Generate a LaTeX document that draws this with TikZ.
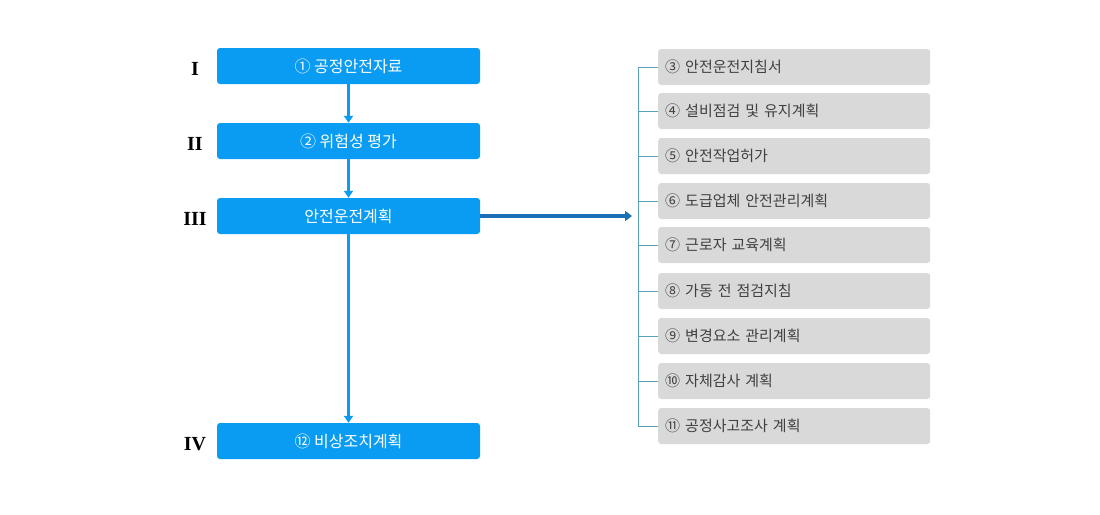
\documentclass[tikz,border=0pt]{standalone}
\usepackage{fontspec}
\setmainfont{Noto Sans CJK KR}
\newfontfamily\romfont{Liberation Serif}
\definecolor{bbox}{HTML}{0A9CF2}
\definecolor{gbox}{HTML}{D9D9D9}
\definecolor{gtext}{HTML}{404040}
\definecolor{brk}{HTML}{5A9FB5}
\definecolor{darr}{HTML}{1A6FB5}
\usetikzlibrary{arrows.meta}
\begin{document}
\begin{tikzpicture}[x=1pt,y=-1pt,
  bluebox/.style={fill=bbox,rounded corners=3pt,minimum width=263pt,minimum height=36pt,text=white,font=\fontsize{16}{18}\selectfont,inner sep=0pt},
  graybox/.style={fill=gbox,rounded corners=3pt,minimum width=272pt,minimum height=36pt,text=gtext,font=\fontsize{15}{17}\selectfont,inner sep=0pt,anchor=west},
  rom/.style={font=\romfont\bfseries\fontsize{20}{22}\selectfont},
  flow/.style={draw=bbox,line width=3pt,-{Triangle[length=7pt,width=9pt]}},
  tick/.style={draw=brk,line width=0.9pt}]
\useasboundingbox (0,0) rectangle (1100,514);
\fill[white] (0,0) rectangle (1100,514);
\node[bluebox] (b1) at (348.5,66) {① 공정안전자료};
\node[bluebox] (b2) at (348.5,141) {② 위험성 평가};
\node[bluebox] (b3) at (348.5,216) {안전운전계획};
\node[bluebox] (b4) at (348.5,441) {⑫ 비상조치계획};
\node[rom] (r1) at (195,69) {I};
\node[rom] (r2) at (195,144) {II};
\node[rom] (r3) at (195,219) {III};
\node[rom] (r4) at (195,444) {IV};
\draw[flow] (b1) -- (b2);
\draw[flow] (b2) -- (b3);
\draw[flow] (b3) -- (b4);
\coordinate (ae) at (632,216);
\draw[draw=darr,line width=3.5pt,-{Triangle[length=7pt,width=10pt]}] (b3.east) -- (ae);
\foreach \i/\y/\t in {3/67/③ 안전운전지침서,4/111/④ 설비점검 및 유지계획,5/156/⑤ 안전작업허가,6/201/⑥ 도급업체 안전관리계획,7/245/⑦ 근로자 교육계획,8/291/⑧ 가동 전 점검지침,9/336/⑨ 변경요소 관리계획,10/381/⑩ 자체감사 계획,11/426/⑪ 공정사고조사 계획}{
  \node[graybox,text width=258pt,align=left] (g\i) at (658,\y) {\t};
  \coordinate (t\i) at (638,\y);
  \draw[tick] (t\i) -- (g\i.west);
}
\draw[tick] (t3) -- (t11);
\end{tikzpicture}
\end{document}
